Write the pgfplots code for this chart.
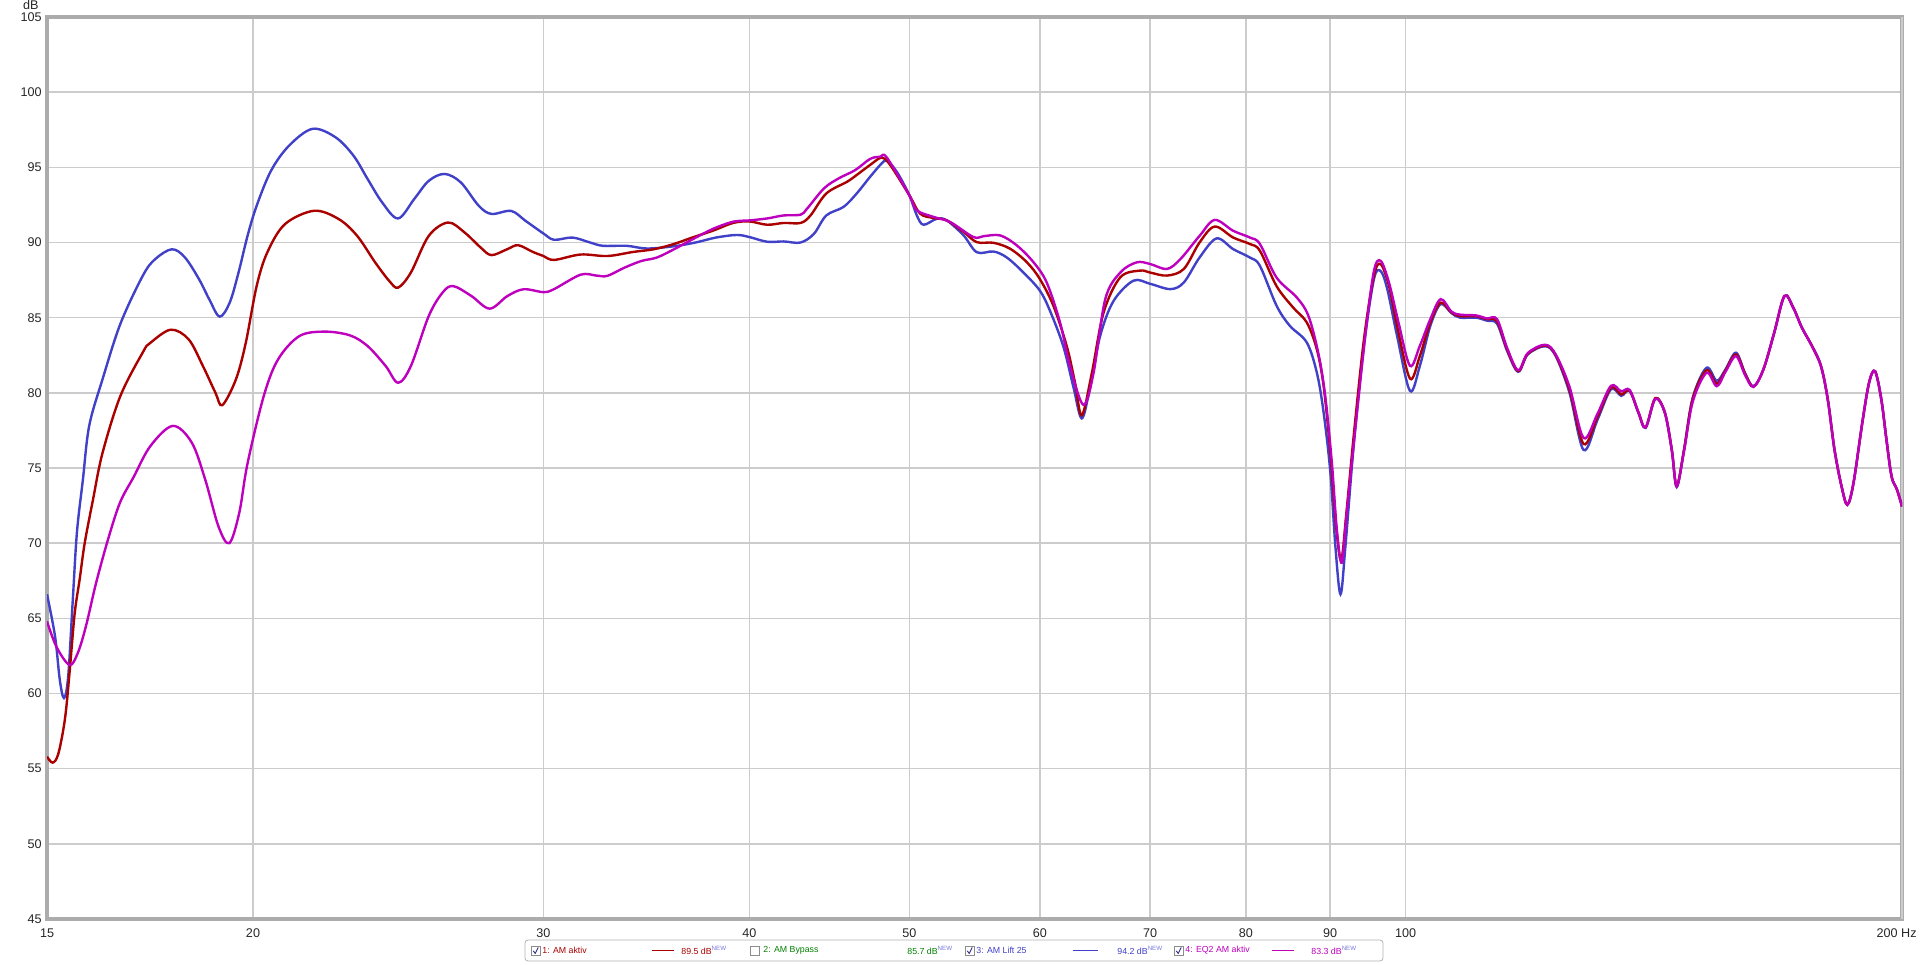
\documentclass[border=0pt]{standalone}
\usepackage{fontspec}
\setmainfont{Liberation Sans}
\usepackage{pgfplots}
\pgfplotsset{compat=1.18}
\definecolor{cred}{RGB}{170,0,0}
\definecolor{cblue}{RGB}{64,64,200}
\definecolor{cmag}{RGB}{190,0,190}
\definecolor{cgrid}{RGB}{204,204,204}
\definecolor{cframe}{RGB}{172,172,172}
\definecolor{cgreen}{RGB}{0,128,0}
\definecolor{cnew}{RGB}{120,120,220}
\newcommand{\cbox}[2]{%
  \draw[black!45, fill=white, line width=0.3pt] (#1,-13.5pt) rectangle ++(4.5pt,-4.5pt);
  \ifnum#2=1 \draw[cblue!70!black, line width=0.45pt] (#1,-13.5pt) ++(1.1pt,-2.4pt) -- ++(1pt,-1.3pt) -- ++(1.5pt,3pt);\fi
}
\begin{document}
\begin{tikzpicture}
\useasboundingbox (-23.5pt,-22.5pt) rectangle (936.5pt,459.5pt);
\begin{axis}[
  scale only axis, width=927.5pt, height=451pt,
  xmode=log, xmin=15, xmax=200, ymin=45, ymax=105,
  xtick={15,20,30,40,50,60,70,80,90,100},
  xticklabels={15,20,30,40,50,60,70,80,90,100},
  extra x ticks={200}, extra x tick labels={200 Hz},
  extra x tick style={xticklabel style={anchor=north east, xshift=7.5pt}},
  ytick={45,50,55,60,65,70,75,80,85,90,95,100,105},
  yticklabels={45,50,55,60,65,70,75,80,85,90,95,100,105},
  grid=major, major grid style={cgrid, line width=0.75pt},
  axis line style={cframe, line width=2pt},
  major tick length=0pt,
  ticklabel style={font=\fontsize{6.3}{7}\selectfont, text=black!85, inner sep=0pt},
  xticklabel style={anchor=north, yshift=-4.5pt},
  yticklabel style={anchor=east, xshift=-2.5pt},
  every axis plot/.append style={line width=1.2pt, smooth, tension=0.55},
]
% 3: AM Lift 25
\addplot[cblue] coordinates {
(15.00,66.6)(15.17,63.8)(15.27,60.9)(15.36,59.7)(15.45,61.1)(15.55,66.2)(15.64,70.7)(15.77,74.2)(15.91,77.8)(16.21,80.9)(16.62,84.6)(17.15,87.8)(17.45,88.9)(17.86,89.55)(18.19,89.0)(18.55,87.55)(18.82,86.2)(19.09,85.07)(19.36,86.0)(19.60,88.0)(19.85,90.44)(20.10,92.44)(20.51,94.78)(21.03,96.44)(21.73,97.56)(22.44,97.0)(23.01,95.78)(23.47,94.22)(23.95,92.67)(24.49,91.6)(25.05,92.9)(25.56,94.1)(26.13,94.56)(26.73,94.0)(27.41,92.44)(27.90,91.9)(28.68,92.1)(29.26,91.44)(30.00,90.6)(30.45,90.18)(31.24,90.33)(32.02,90.0)(32.60,89.78)(33.70,89.78)(34.67,89.6)(36.00,89.75)(37.10,90.0)(38.18,90.33)(39.30,90.5)(40.00,90.36)(41.00,90.05)(41.96,90.07)(42.96,90.0)(43.77,90.58)(44.53,91.8)(45.62,92.37)(46.46,93.26)(47.34,94.37)(48.12,95.27)(48.46,95.42)(49.14,94.7)(50.00,93.15)(50.53,91.8)(51.00,91.18)(51.96,91.58)(52.69,91.47)(53.94,90.47)(54.95,89.35)(56.24,89.4)(57.30,89.0)(58.65,88.0)(60.00,86.8)(60.86,85.45)(62.00,83.1)(62.88,80.4)(63.62,78.3)(64.37,80.4)(65.27,83.77)(66.50,86.1)(68.38,87.46)(70.00,87.25)(72.00,86.9)(73.36,87.34)(75.00,89.0)(76.80,90.27)(78.60,89.56)(80.45,89.0)(81.58,88.45)(83.50,85.8)(85.06,84.46)(87.10,83.35)(88.33,81.35)(89.17,78.7)(90.02,74.7)(90.65,69.8)(91.30,66.6)(91.93,69.8)(93.00,76.5)(94.34,83.13)(95.66,87.56)(96.56,88.1)(97.46,86.9)(98.80,83.8)(100.6,80.13)(102.0,81.8)(103.5,84.46)(105.0,85.9)(106.6,85.3)(107.9,85.0)(110.3,85.0)(112.0,84.8)(113.6,84.6)(115.2,82.8)(117.0,81.4)(118.6,82.56)(121.5,83.1)(123.3,82.44)(125.7,80.0)(128.2,76.2)(130.7,78.2)(133.2,80.24)(135.1,79.8)(136.7,80.13)(138.4,78.67)(139.8,77.67)(141.7,79.6)(143.6,78.67)(145.0,76.2)(146.0,73.73)(147.5,76.2)(149.3,79.67)(152.2,81.67)(154.4,80.8)(156.3,81.56)(158.6,82.67)(160.6,81.33)(162.5,80.44)(164.8,81.56)(167.3,84.0)(169.7,86.44)(171.8,85.67)(173.9,84.33)(176.4,83.1)(178.6,81.78)(180.3,79.56)(182.0,76.22)(183.8,73.78)(185.3,72.56)(186.9,74.0)(189.2,78.0)(191.0,80.67)(192.6,81.44)(194.3,79.56)(195.7,76.9)(197.1,74.44)(198.6,73.56)(200.0,72.44)
};
% 1: AM aktiv
\addplot[cred] coordinates {
(15.00,55.8)(15.12,55.4)(15.24,56.0)(15.38,58.3)(15.48,61.4)(15.59,65.3)(15.70,67.6)(15.81,70.0)(15.99,72.8)(16.21,76.0)(16.62,79.8)(17.15,82.7)(17.32,83.3)(17.83,84.2)(18.28,83.56)(18.65,81.78)(18.98,80.0)(19.16,79.18)(19.53,80.9)(19.80,83.33)(20.10,87.1)(20.40,89.33)(20.91,91.22)(21.78,92.11)(22.54,91.56)(23.13,90.44)(23.72,88.67)(24.19,87.44)(24.49,87.0)(24.93,88.0)(25.56,90.44)(26.26,91.33)(26.87,90.67)(27.48,89.67)(27.90,89.16)(28.53,89.56)(28.96,89.82)(29.55,89.38)(30.00,89.1)(30.45,88.84)(31.60,89.2)(32.80,89.1)(34.00,89.37)(35.00,89.55)(36.00,89.9)(36.93,90.33)(38.00,90.78)(39.10,91.3)(40.00,91.4)(41.00,91.18)(41.96,91.3)(42.96,91.3)(43.56,91.8)(44.53,93.26)(45.84,94.04)(46.46,94.49)(47.34,95.16)(48.12,95.65)(48.68,95.16)(50.00,93.15)(50.76,91.92)(51.73,91.63)(52.69,91.47)(53.94,90.7)(54.95,90.02)(56.24,89.98)(57.57,89.58)(58.93,88.68)(60.00,87.57)(61.15,85.78)(62.30,83.1)(63.03,80.65)(63.62,78.5)(64.52,81.3)(65.58,85.33)(67.13,87.68)(69.02,88.13)(70.00,88.0)(71.66,87.8)(73.36,88.24)(75.00,90.0)(76.60,91.06)(78.60,90.33)(80.45,89.9)(81.58,89.45)(83.50,87.1)(85.45,85.68)(87.10,84.68)(88.33,82.9)(89.17,80.47)(90.02,76.03)(90.78,70.93)(91.40,68.9)(92.06,72.04)(93.00,77.14)(94.34,83.57)(95.66,87.78)(96.56,88.56)(97.69,87.12)(98.80,84.46)(100.6,80.95)(102.0,82.46)(103.5,84.68)(105.0,86.0)(106.6,85.35)(107.9,85.1)(110.3,85.1)(112.0,84.9)(113.6,84.75)(115.2,82.9)(117.0,81.45)(118.6,82.6)(121.5,83.15)(123.3,82.5)(125.7,80.2)(128.2,76.6)(130.7,78.4)(133.2,80.35)(135.1,79.9)(136.7,80.15)(138.4,78.7)(139.8,77.7)(141.7,79.65)(143.6,78.7)(145.0,76.2)(146.0,73.8)(147.5,76.2)(149.3,79.6)(152.2,81.5)(154.4,80.6)(156.3,81.5)(158.6,82.55)(160.6,81.3)(162.5,80.4)(164.8,81.56)(167.3,84.0)(169.7,86.44)(171.8,85.67)(173.9,84.33)(176.4,83.1)(178.6,81.78)(180.3,79.56)(182.0,76.22)(183.8,73.78)(185.3,72.56)(186.9,74.0)(189.2,78.0)(191.0,80.67)(192.6,81.44)(194.3,79.56)(195.7,76.9)(197.1,74.44)(198.6,73.56)(200.0,72.44)
};
% 4: EQ2 AM aktiv
\addplot[cmag] coordinates {
(15.00,64.8)(15.20,63.1)(15.48,61.9)(15.66,62.7)(15.84,64.5)(16.06,67.3)(16.33,70.2)(16.61,72.7)(16.93,74.4)(17.33,76.46)(17.88,77.8)(18.36,76.7)(18.71,74.23)(19.06,71.1)(19.35,70.0)(19.62,72.0)(19.85,75.3)(20.30,79.78)(20.71,82.22)(21.34,83.78)(22.11,84.07)(22.90,83.82)(23.47,83.11)(24.07,81.78)(24.49,80.67)(24.93,81.78)(25.56,85.11)(26.06,86.67)(26.45,87.1)(27.13,86.44)(27.83,85.6)(28.53,86.44)(29.18,86.89)(30.00,86.7)(30.45,86.9)(31.60,87.86)(32.30,87.8)(32.80,87.78)(33.60,88.33)(34.40,88.77)(35.15,89.0)(36.00,89.55)(36.93,90.2)(38.00,90.9)(38.94,91.33)(39.47,91.44)(40.00,91.47)(41.00,91.6)(41.96,91.8)(42.96,91.85)(43.35,92.25)(44.39,93.6)(45.30,94.26)(46.37,94.82)(47.34,95.56)(48.01,95.7)(48.46,95.65)(50.00,93.15)(50.53,92.14)(51.73,91.7)(52.94,91.36)(54.69,90.36)(55.46,90.42)(56.77,90.47)(58.11,89.8)(59.48,88.68)(60.58,87.34)(61.72,84.67)(62.59,81.76)(63.77,79.2)(64.67,81.3)(65.74,86.23)(67.13,88.0)(68.70,88.68)(70.00,88.57)(71.66,88.24)(73.02,88.9)(75.00,90.44)(76.60,91.5)(78.60,90.78)(80.45,90.33)(81.58,89.9)(83.50,87.67)(85.90,86.34)(87.30,85.12)(88.50,82.68)(89.37,79.8)(90.20,75.37)(90.83,70.93)(91.46,68.7)(92.10,72.04)(93.20,77.58)(94.56,84.0)(95.66,88.1)(96.56,88.78)(97.69,87.34)(99.00,84.68)(100.6,81.8)(102.0,83.13)(103.5,84.9)(105.0,86.23)(106.6,85.4)(107.9,85.2)(110.3,85.15)(112.0,84.95)(113.6,84.9)(115.2,83.0)(117.0,81.5)(118.6,82.65)(121.5,83.2)(123.3,82.55)(125.7,80.4)(128.2,77.0)(130.7,78.6)(133.2,80.47)(135.1,80.1)(136.7,80.2)(138.4,78.7)(139.8,77.7)(141.7,79.6)(143.6,78.7)(145.0,76.2)(146.0,73.8)(147.5,76.1)(149.3,79.4)(152.2,81.33)(154.4,80.44)(156.3,81.4)(158.6,82.44)(160.6,81.2)(162.5,80.4)(164.8,81.56)(167.3,84.0)(169.7,86.44)(171.8,85.67)(173.9,84.33)(176.4,83.1)(178.6,81.78)(180.3,79.56)(182.0,76.22)(183.8,73.78)(185.3,72.56)(186.9,74.0)(189.2,78.0)(191.0,80.67)(192.6,81.44)(194.3,79.56)(195.7,76.9)(197.1,74.44)(198.6,73.56)(200.0,72.44)
};
\end{axis}
\node[anchor=south east, inner sep=0pt, font=\fontsize{6.3}{7}\selectfont, text=black!85] at (-4pt,454.5pt) {dB};
% legend
\begin{scope}[font=\fontsize{4.4}{5}\selectfont]
\draw[rounded corners=1.5pt, draw=black!30, fill=white, line width=0.4pt] (239pt,-10.5pt) rectangle (668pt,-21pt);
\cbox{242pt}{1}
\node[anchor=west, inner sep=0pt, text=cred] at (247.5pt,-15.75pt) {1: AM aktiv};
\draw[cred, line width=0.9pt] (302.5pt,-15.75pt) -- (313.5pt,-15.75pt);
\node[anchor=west, inner sep=0pt, text=cred] at (317pt,-15.75pt) {89.5 dB{\color{cnew}\textsuperscript{NEW}}};
\cbox{351.5pt}{0}
\node[anchor=west, inner sep=0pt, text=cgreen] at (358pt,-15.75pt) {2: AM Bypass};
\node[anchor=west, inner sep=0pt, text=cgreen] at (430pt,-15.75pt) {85.7 dB{\color{cnew}\textsuperscript{NEW}}};
\cbox{459pt}{1}
\node[anchor=west, inner sep=0pt, text=cblue] at (464.5pt,-15.75pt) {3: AM Lift 25};
\draw[cblue, line width=0.9pt] (513pt,-15.75pt) -- (525.5pt,-15.75pt);
\node[anchor=west, inner sep=0pt, text=cblue] at (535pt,-15.75pt) {94.2 dB{\color{cnew}\textsuperscript{NEW}}};
\cbox{563.5pt}{1}
\node[anchor=west, inner sep=0pt, text=cmag] at (569pt,-15.75pt) {4: EQ2 AM aktiv};
\draw[cmag, line width=0.9pt] (612.5pt,-15.75pt) -- (623.5pt,-15.75pt);
\node[anchor=west, inner sep=0pt, text=cmag] at (632pt,-15.75pt) {83.3 dB{\color{cnew}\textsuperscript{NEW}}};
\end{scope}
\end{tikzpicture}
\end{document}
